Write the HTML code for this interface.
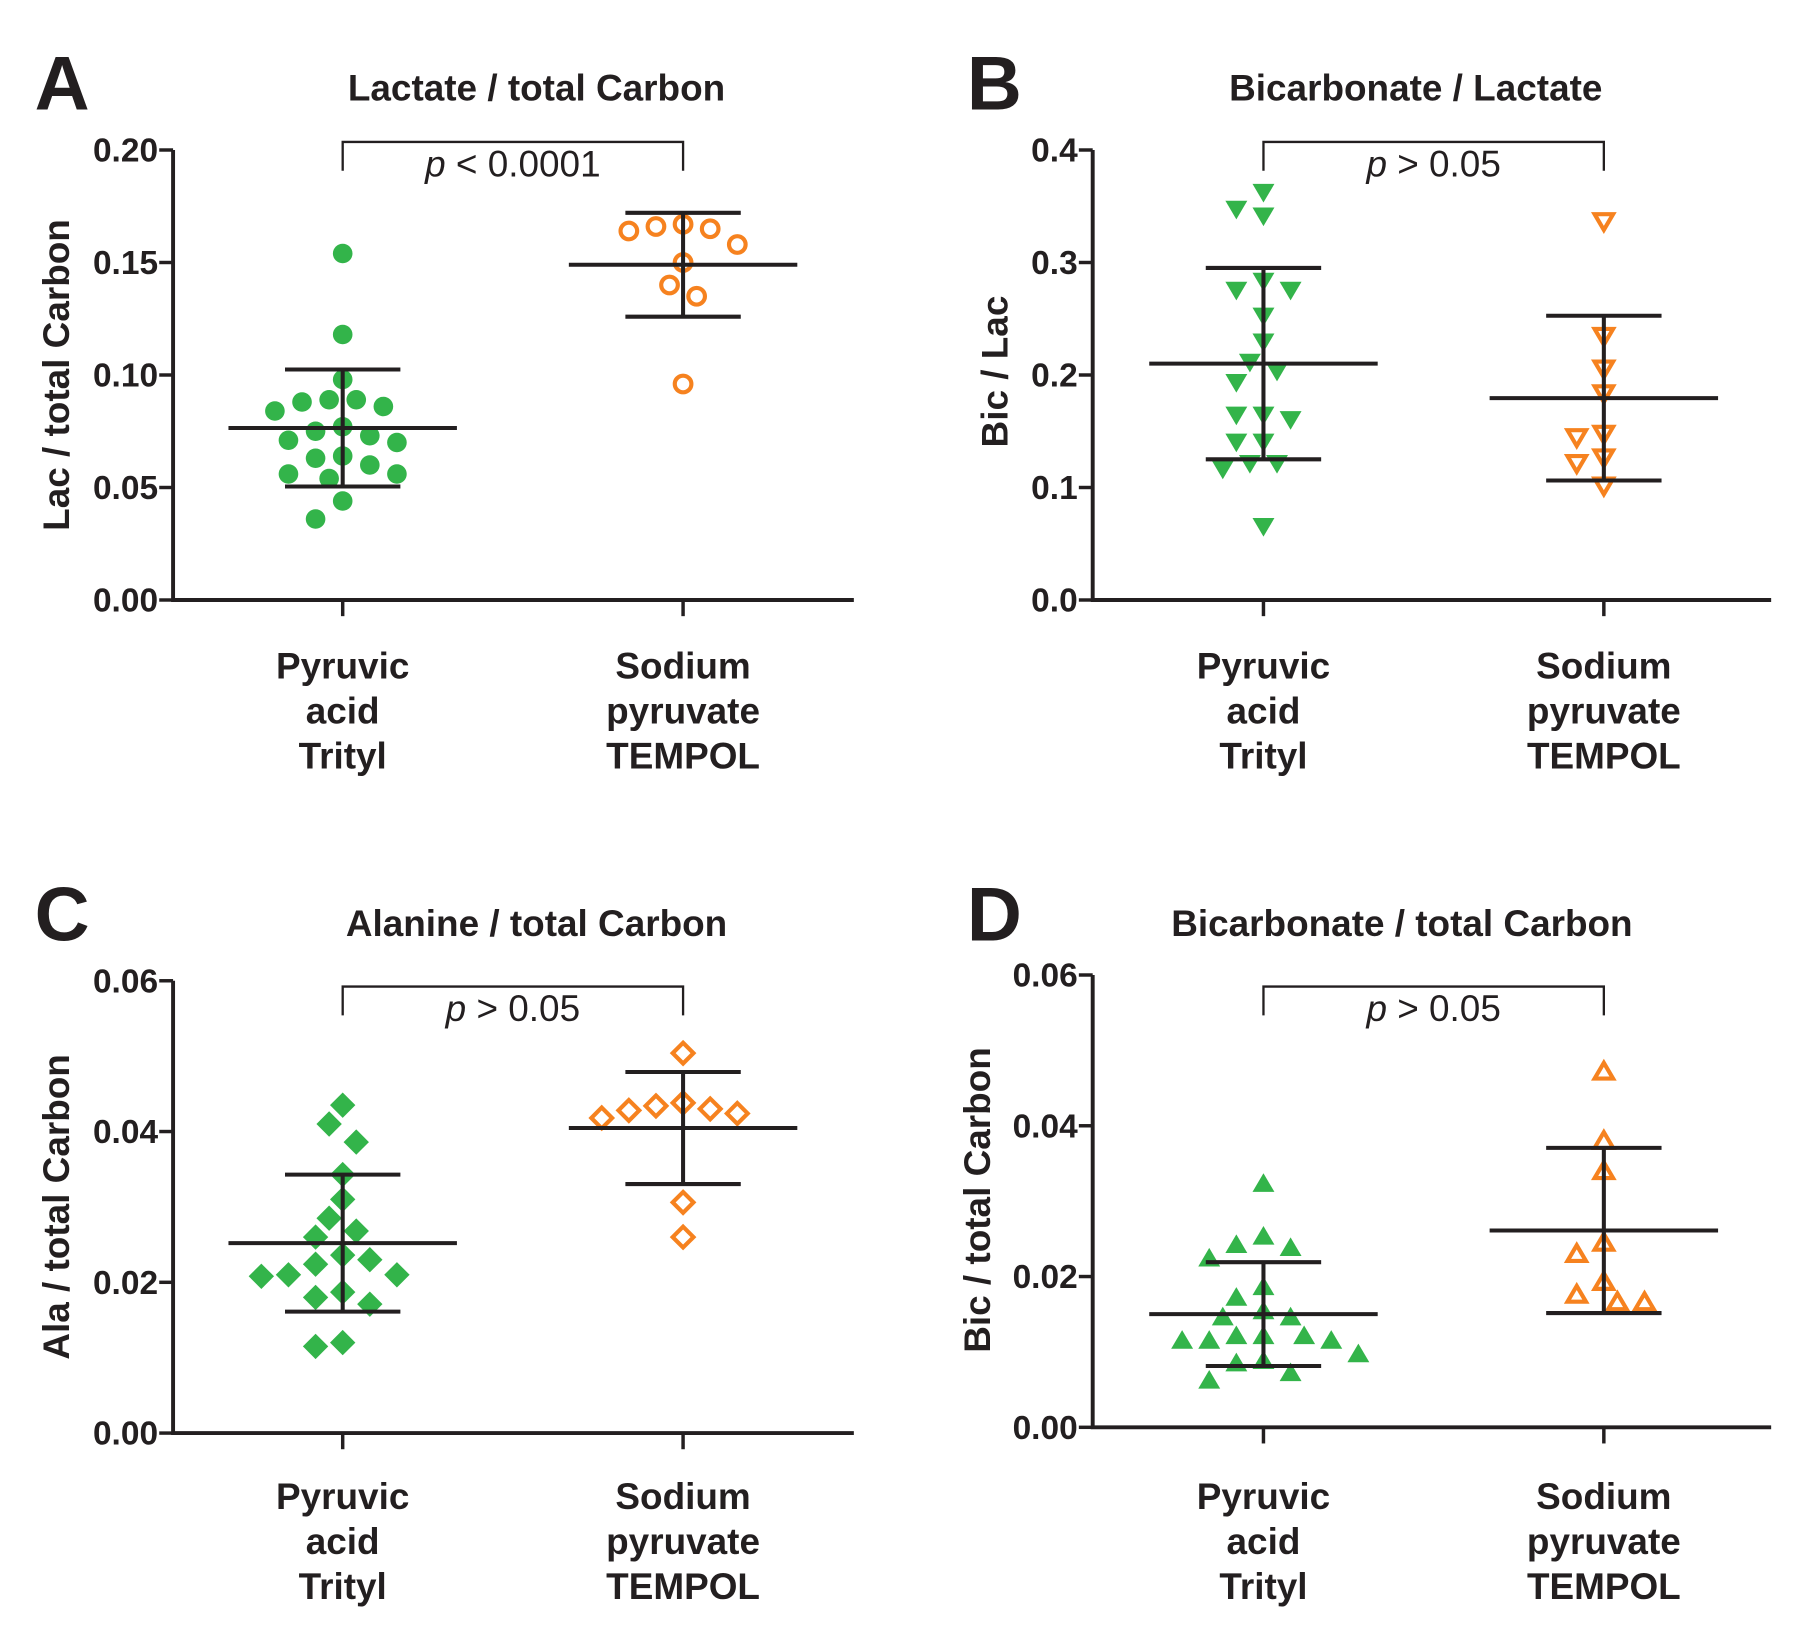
<!DOCTYPE html>
<html><head><meta charset="utf-8">
<style>
html,body{margin:0;padding:0;background:#fff;}
svg{display:block;}
text{font-family:"Liberation Sans",Arial,sans-serif;fill:#231f20;}
</style></head>
<body>
<svg id="fig" xmlns="http://www.w3.org/2000/svg" width="1800" height="1650" viewBox="0 0 1560 1430"></svg>
<script>
// ---- data ----
const categories = ["Pyruvic|acid|Trityl", "Sodium|pyruvate|TEMPOL"];
const lacTrityl = [0.154,0.118,0.098,0.089,0.086,0.084,0.088,0.089,0.077,0.073,0.070,0.071,0.075,0.064,0.060,0.063,0.056,0.054,0.056,0.044,0.036];
const lacTempol = [0.167,0.165,0.164,0.166,0.158,0.150,0.140,0.135,0.096];
const bicLacTrityl = [0.349,0.343,0.364,0.285,0.277,0.277,0.254,0.231,0.213,0.205,0.195,0.166,0.162,0.166,0.142,0.142,0.123,0.118,0.123,0.067];
const bicLacTempol = [0.338,0.236,0.207,0.185,0.146,0.149,0.128,0.123,0.103];
const alaTrityl = [0.0435,0.041,0.0386,0.0343,0.031,0.0285,0.0268,0.026,0.023,0.0236,0.0224,0.021,0.0208,0.021,0.0187,0.018,0.0171,0.0115,0.012];
const alaTempol = [0.0504,0.0434,0.0428,0.0418,0.0424,0.043,0.0438,0.0306,0.026];
const bicTrityl = [0.0321,0.0251,0.0236,0.024,0.0222,0.0184,0.017,0.0152,0.0144,0.0144,0.0119,0.0119,0.0113,0.0113,0.0113,0.0119,0.0095,0.0083,0.0086,0.006,0.007];
const bicTempol = [0.047,0.0378,0.0338,0.0243,0.0228,0.0191,0.0174,0.0164,0.0164];
const ticksA = ["0.00","0.05","0.10","0.15","0.20"];
const ticksB = ["0.0","0.1","0.2","0.3","0.4"];
const ticksC = ["0.00","0.02","0.04","0.06"];
const ticksD = ["0.00","0.02","0.04","0.06"];
const pLabels = ["< 0.0001","> 0.05","> 0.05","> 0.05"];

const NS="http://www.w3.org/2000/svg";
const svg=document.getElementById('fig');
const GREEN="#33b44a", ORANGE="#f6821f", INK="#231f20";
function mk(tag,attrs,parent){const e=document.createElementNS(NS,tag);for(const k in attrs)e.setAttribute(k,attrs[k]);(parent||svg).appendChild(e);return e;}

const panels=[
 {id:'a',letter:'A',lx:30,ly:95,ax:150,yTop:130,yBot:520,xEnd:740,max:0.2,ticks:ticksA,cx:[297,592],title:'Lactate / total Carbon',tx:465,ty:87,ylab:'Lac / total Carbon',ylx:62,yly:325,br:123,bb:148,py:153,p:pLabels[0],g:lacTrityl,o:lacTempol,shape:'circle',labY:588},
 {id:'b',letter:'B',lx:838,ly:95,ax:947,yTop:130,yBot:520,xEnd:1535,max:0.4,ticks:ticksB,cx:[1095,1390],title:'Bicarbonate / Lactate',tx:1227,ty:87,ylab:'Bic / Lac',ylx:875,yly:322,br:123,bb:148,py:153,p:pLabels[1],g:bicLacTrityl,o:bicLacTempol,shape:'down',labY:588},
 {id:'c',letter:'C',lx:30,ly:815,ax:150,yTop:850,yBot:1242,xEnd:740,max:0.06,ticks:ticksC,cx:[297,592],title:'Alanine / total Carbon',tx:465,ty:811,ylab:'Ala / total Carbon',ylx:62,yly:1046,br:855,bb:880,py:885,p:pLabels[2],g:alaTrityl,o:alaTempol,shape:'diamond',labY:1308},
 {id:'d',letter:'D',lx:838,ly:815,ax:947,yTop:845,yBot:1237,xEnd:1535,max:0.06,ticks:ticksD,cx:[1095,1390],title:'Bicarbonate / total Carbon',tx:1215,ty:811,ylab:'Bic / total Carbon',ylx:860,yly:1040,br:855,bb:880,py:885,p:pLabels[3],g:bicTrityl,o:bicTempol,shape:'up',labY:1308}
];

function swarm(vals,yf,cx,step,minD){
  const idx=vals.map((v,i)=>i).sort((a,b)=>vals[b]-vals[a]);
  const placed=[];const out=new Array(vals.length);
  for(const i of idx){
    const y=yf(vals[i]);
    for(let k=0;k<40;k++){
      const off=(k%2===0?1:-1)*Math.ceil(k/2)*step;
      const x=cx+off;
      if(placed.every(p=>Math.hypot(p[0]-x,p[1]-y)>=minD)){placed.push([x,y]);out[i]=[x,y];break;}
    }
  }
  return out;
}
function marker(g,shape,x,y,filled,color,name){
  let e;
  const fill=filled?color:'#fff', st=filled?'none':color, sw=filled?0:3.6;
  if(shape==='circle'){
    e=mk('circle',{cx:x,cy:y,r:filled?8.5:7.2,fill:fill,stroke:st,'stroke-width':sw},g);
  }else if(shape==='diamond'){
    const r=filled?11:9;
    e=mk('polygon',{points:`${x},${y-r} ${x+r},${y} ${x},${y+r} ${x-r},${y}`,fill:fill,stroke:st,'stroke-width':sw,'stroke-linejoin':'miter'},g);
  }else{
    const s=filled?9.5:8, d=shape==='down'?1:-1;
    e=mk('polygon',{points:`${x-s},${y-d*s*0.6} ${x+s},${y-d*s*0.6} ${x},${y+d*s*1.1}`,fill:fill,stroke:st,'stroke-width':sw},g);
  }
  
  
}
function stats(a){const m=a.reduce((s,v)=>s+v,0)/a.length;const sd=Math.sqrt(a.reduce((s,v)=>s+(v-m)*(v-m),0)/(a.length-1));return [m,sd];}

panels.forEach(P=>{
  const g=mk('g',{});
  
  
  const yf=v=>P.yBot-(v/P.max)*(P.yBot-P.yTop);
  let t=mk('text',{x:P.lx,y:P.ly,'font-size':66,'font-weight':'bold'},g);t.textContent=P.letter;
  
  t=mk('text',{x:P.tx,y:P.ty,'font-size':32,'font-weight':'bold','text-anchor':'middle'},g);t.textContent=P.title;
  
  let l=mk('path',{d:`M${P.ax},${P.yTop}V${P.yBot}H${P.xEnd}`,fill:'none',stroke:INK,'stroke-width':3.4},g);
  
  P.ticks.forEach((lab,i)=>{
    const v=P.max*i/(P.ticks.length-1), y=yf(v);
    const tk=mk('line',{x1:P.ax-12,x2:P.ax,y1:y,y2:y,stroke:INK,'stroke-width':3},g);
    
    const tl=mk('text',{x:P.ax-13,y:y+10,'font-size':29,'font-weight':'bold','text-anchor':'end'},g);tl.textContent=lab;
    
  });
  t=mk('text',{x:P.ylx-2,y:P.yly,'font-size':32,'font-weight':'bold','text-anchor':'middle',transform:`rotate(-90 ${P.ylx-2} ${P.yly})`},g);t.textContent=P.ylab;
  
  categories.forEach((c,ci)=>{
    const x=P.cx[ci];
    const tk=mk('line',{x1:x,x2:x,y1:P.yBot,y2:P.yBot+14,stroke:INK,'stroke-width':3},g);
    
    c.split('|').forEach((s,li)=>{
      const tl=mk('text',{x:x,y:P.labY+li*39,'font-size':32,'font-weight':'bold','text-anchor':'middle'},g);tl.textContent=s;
      
    });
  });
  l=mk('path',{d:`M${P.cx[0]},${P.bb}V${P.br}H${P.cx[1]}V${P.bb}`,fill:'none',stroke:INK,'stroke-width':2},g);
  
  t=mk('text',{x:(P.cx[0]+P.cx[1])/2,y:P.py,'font-size':32,'text-anchor':'middle'},g);
  const ts=mk('tspan',{'font-style':'italic'},t);ts.textContent='p';
  const ts2=mk('tspan',{},t);ts2.textContent=' '+P.p;
  
  [[P.g,true,GREEN,0],[P.o,false,ORANGE,1]].forEach(([vals,filled,color,ci])=>{
    const pts=swarm(vals,yf,P.cx[ci],11.75,20);
    pts.forEach(p=>marker(g,P.shape,p[0],p[1],filled,color,ci===0?'point-trityl':'point-tempol'));
    const [m,sd]=stats(vals);
    const x=P.cx[ci];
    const e1=mk('line',{x1:x-99,x2:x+99,y1:yf(m),y2:yf(m),stroke:INK,'stroke-width':3.5},g);
    
    const e2=mk('path',{d:`M${x},${yf(m+sd)}V${yf(m-sd)}M${x-50},${yf(m+sd)}H${x+50}M${x-50},${yf(m-sd)}H${x+50}`,fill:'none',stroke:INK,'stroke-width':3.5},g);
    
  });
});
</script>
</body></html>
